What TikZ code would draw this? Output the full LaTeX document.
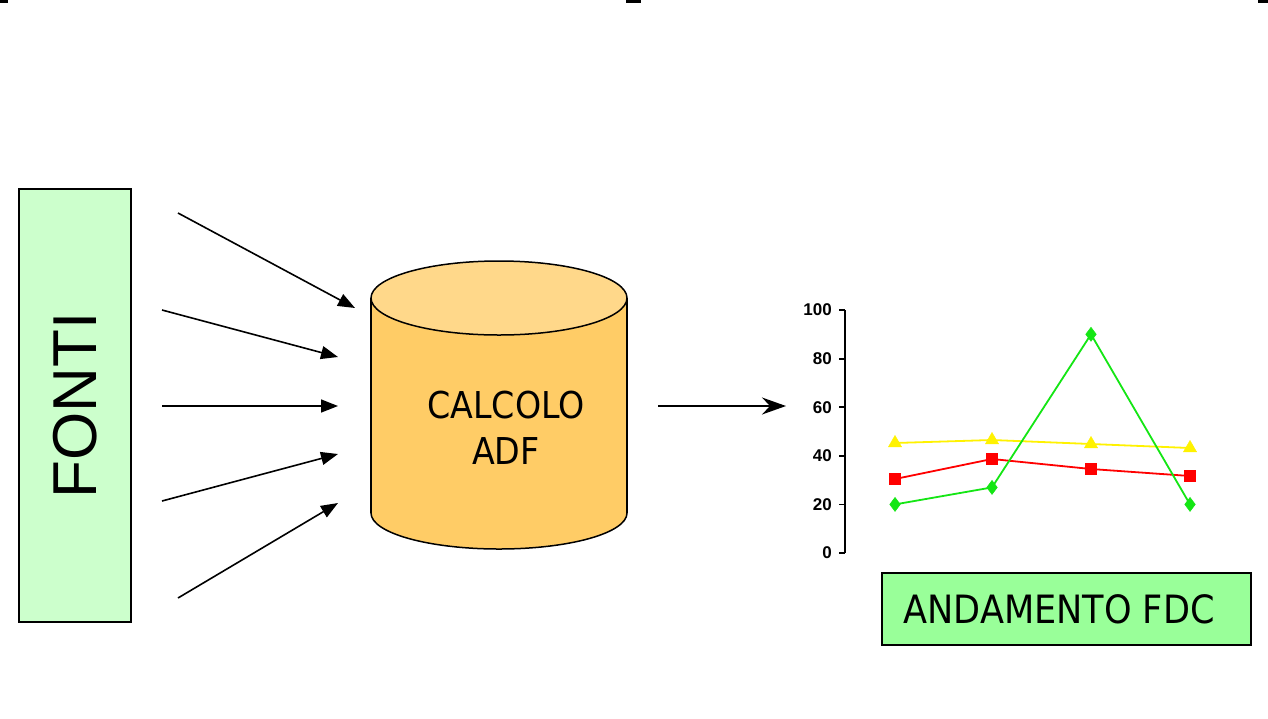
\documentclass[tikz,border=0pt]{standalone}
\usepackage{fontspec}
\setmainfont{DejaVu Sans Condensed}
\newfontfamily\arialfont{Liberation Sans}
\usetikzlibrary{arrows.meta,plotmarks}
\definecolor{fontifill}{HTML}{CCFFCC}
\definecolor{fdcfill}{HTML}{99FF99}
\definecolor{cylbody}{HTML}{FFCC66}
\definecolor{cyltop}{HTML}{FFD88A}
\definecolor{sergreen}{RGB}{20,230,20}
\begin{document}
\begin{tikzpicture}[x=1pt,y=-1pt,
  inarrow/.style={line width=1.6pt,-{Triangle[length=17pt,width=13pt]}},
  outarrow/.style={line width=1.6pt,-{Stealth[length=24pt,width=17pt,inset=8pt]}},
  boxstyle/.style={draw=black,line width=1.5pt,inner sep=0pt},
  bigtext/.style={font=\fontsize{37}{46}\selectfont},
  ticklabel/.style={anchor=east,inner sep=0pt,font=\arialfont\bfseries\fontsize{17}{17}\selectfont},
  series/.style={line width=1.8pt},
  handle/.style={fill=black}]
\useasboundingbox[fill=white] (0,0) rectangle (1268,718);
% selection handles at top
\fill[handle] (0,0) rectangle (8,2.5);
\fill[handle] (626,0) rectangle (641,2.5);
\fill[handle] (1258,0) rectangle (1268,2.5);
% FONTI box
\node[boxstyle,fill=fontifill,rotate=90,minimum width=433pt,minimum height=112pt,
      font=\arialfont\fontsize{62}{62}\selectfont] (fonti) at (75,405.5) {FONTI};
% cylinder
\filldraw[fill=cylbody,draw=black,line width=1.5pt] (499,513) ellipse [x radius=128,y radius=36];
\fill[cylbody] (371,298) rectangle (627,513);
\draw[line width=1.5pt] (371,298) -- (371,513) (627,298) -- (627,513);
\filldraw[fill=cyltop,draw=black,line width=1.5pt] (499,298) ellipse [x radius=128,y radius=37];
\node[bigtext,align=center,inner sep=0pt] (adf) at (506,428) {CALCOLO\\ADF};
% input arrows
\coordinate (s1) at (178,213); \coordinate (t1) at (355,308);
\coordinate (s2) at (162,310); \coordinate (t2) at (338,357);
\coordinate (s3) at (162,406); \coordinate (t3) at (338,406);
\coordinate (s4) at (162,501); \coordinate (t4) at (338,454);
\coordinate (s5) at (178,598); \coordinate (t5) at (338,503);
\foreach \i in {1,...,5} {\draw[inarrow] (s\i) -- (t\i);}
% output arrow
\coordinate (o1) at (658,406); \coordinate (o2) at (786,406);
\draw[outarrow] (o1) -- (o2);
% chart axis
\draw[line width=2pt] (845,310) -- (845,553);
\foreach \v in {0,20,...,100} {
  \draw[line width=1.8pt] (839,{553-2.43*\v}) -- (845,{553-2.43*\v});
  \node[ticklabel] at (832,{553-2.43*\v}) {\v};
}
% series
\draw[series,yellow] plot[mark=triangle*,mark size=7.5pt,mark options={fill=yellow,line width=0.5pt}] coordinates {(895,443) (992,440) (1091,444) (1190,448)};
\draw[series,red] plot[mark=square*,mark size=5.5pt,mark options={fill=red,line width=0.5pt}] coordinates {(895,479) (992,459) (1091,469) (1190,476)};
\draw[series,sergreen] plot[mark=diamond*,mark size=7pt,mark options={fill=sergreen,line width=0.5pt}] coordinates {(895,504.4) (992,487.4) (1091,334.3) (1190,504.4)};
% ANDAMENTO FDC box
\node[boxstyle,fill=fdcfill,minimum width=369pt,minimum height=72pt,font=\fontsize{39}{46}\selectfont] (fdc) at (1066.5,609) {ANDAMENTO FDC\kern15pt};
\end{tikzpicture}
\end{document}
